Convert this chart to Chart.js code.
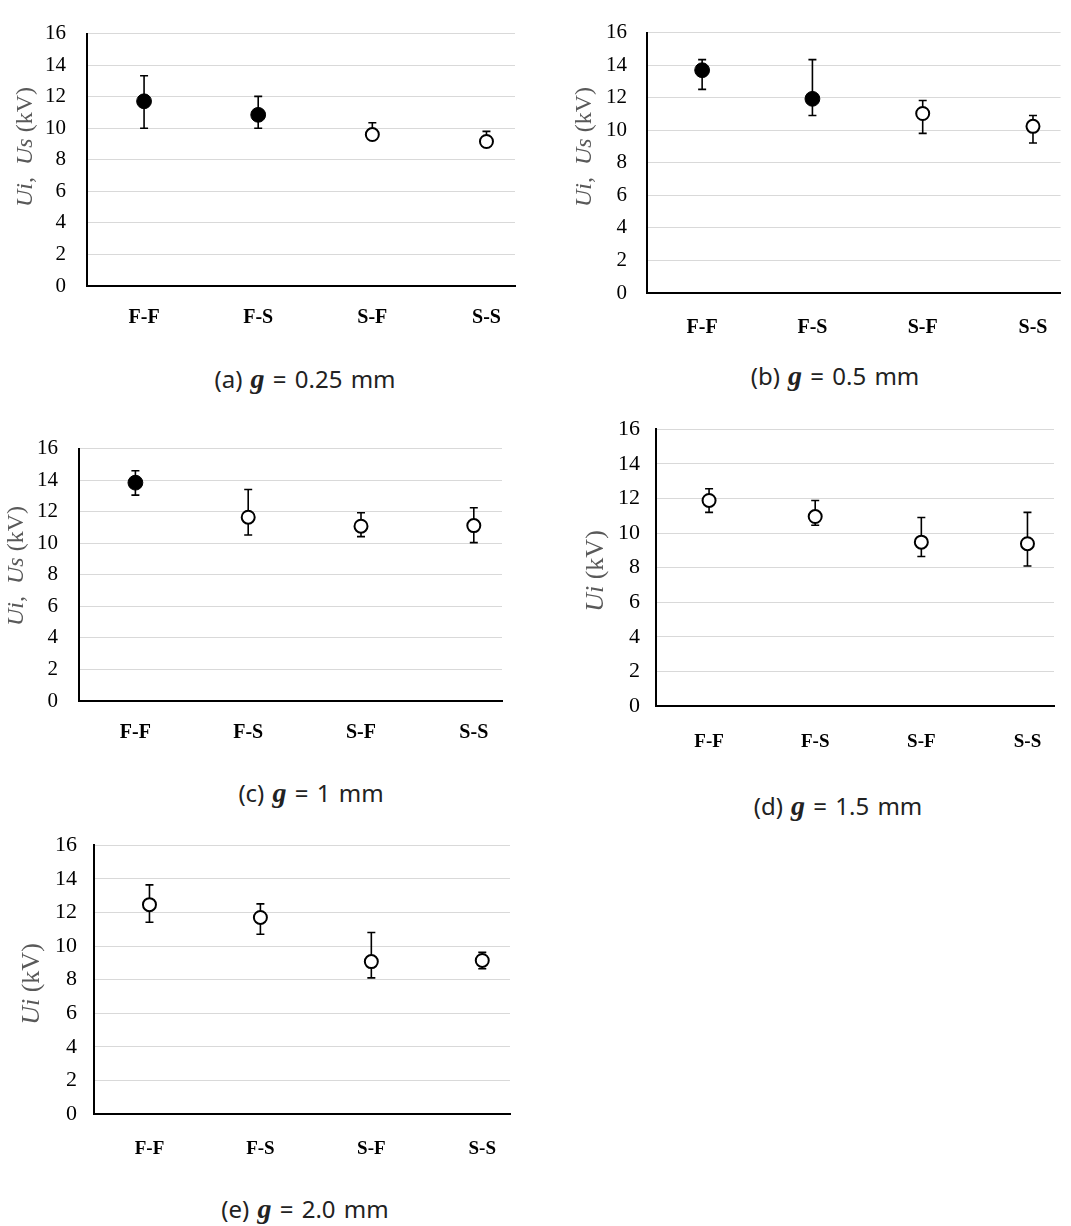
<!DOCTYPE html>
<html>
<head>
<meta charset="utf-8">
<title>Ui, Us vs electrode pair</title>
<script src="https://cdn.jsdelivr.net/npm/chart.js@4.4.1/dist/chart.umd.min.js"></script>
<style>
  body { margin: 0; background: #fff; width: 1071px; height: 1226px; position: relative; overflow: hidden; }
  .panel { position: absolute; }
  .caption { position: absolute; transform: translateX(-50%); font-family: 'Noto Sans', sans-serif; font-size: 24px; color: #222; white-space: nowrap; line-height: 1; word-spacing: 2px; }
  .caption i { font-family: "Liberation Serif", "Times New Roman", "DejaVu Serif", serif; font-weight: bold; font-size: 28px; }
</style>
</head>
<body>
<script>
const SERIF = '"Liberation Serif", "Times New Roman", "DejaVu Serif", serif';

// electrode combinations on the x axis
const categories = ['F-F', 'F-S', 'S-F', 'S-S'];
const yMin = 0, yMax = 16, yStep = 2;

// g = 0.25 mm
const mean025  = [11.71, 10.85, 9.60, 9.16];
const upper025 = [13.33, 12.02, 10.35, 9.80];
const lower025 = [10.00, 10.00, 9.30, 8.90];
const filled025 = [true, true, false, false];

// g = 0.5 mm
const mean05  = [13.69, 11.93, 11.03, 10.24];
const upper05 = [14.34, 14.34, 11.83, 10.91];
const lower05 = [12.51, 10.91, 9.81, 9.22];
const filled05 = [true, true, false, false];

// g = 1 mm
const mean1  = [13.84, 11.65, 11.08, 11.12];
const upper1 = [14.60, 13.41, 11.93, 12.25];
const lower1 = [13.05, 10.52, 10.42, 10.04];
const filled1 = [true, false, false, false];

// g = 1.5 mm
const mean15  = [11.88, 10.95, 9.47, 9.38];
const upper15 = [12.56, 11.88, 10.90, 11.19];
const lower15 = [11.19, 10.45, 8.64, 8.09];
const filled15 = [false, false, false, false];

// g = 2.0 mm
const mean2  = [12.46, 11.70, 9.07, 9.14];
const upper2 = [13.64, 12.51, 10.80, 9.62];
const lower2 = [11.41, 10.70, 8.10, 8.65];
const filled2 = [false, false, false, false];

// axis titles: [text, italic]
const titleUiUs = [['Ui', true], [',  ', false], ['Us', true], [' (kV)', false]];
const titleUi = [['Ui', true], [' (kV)', false]];

const panels = [
  { mean: mean025, upper: upper025, lower: lower025, filled: filled025, title: titleUiUs,
    box: { left: 0, top: 0, width: 530, height: 340 }, plot: { left: 87, top: 21, right: 515, bottom: 286 },
    tickSize: 21, tickPad: 21, catSize: 20, catPad: 20, titleX: 26, titleY: 147, titleSize: 24,
    caption: '(a)', gap: '0.25', capX: 305, capY: 378 },
  { mean: mean05, upper: upper05, lower: lower05, filled: filled05, title: titleUiUs,
    box: { left: 560, top: 0, width: 511, height: 345 }, plot: { left: 647, top: 21, right: 1071, bottom: 293 },
    tickSize: 21, tickPad: 20, catSize: 20, catPad: 23, titleX: 25, titleY: 147, titleSize: 24,
    caption: '(b)', gap: '0.5', capX: 835, capY: 375 },
  { mean: mean1, upper: upper1, lower: lower1, filled: filled1, title: titleUiUs,
    box: { left: 0, top: 415, width: 530, height: 345 }, plot: { left: 79, top: 435, right: 502, bottom: 701 },
    tickSize: 21, tickPad: 21, catSize: 20, catPad: 20, titleX: 17, titleY: 151, titleSize: 24,
    caption: '(c)', gap: '1', capX: 311, capY: 792 },
  { mean: mean15, upper: upper15, lower: lower15, filled: filled15, title: titleUi,
    box: { left: 560, top: 400, width: 511, height: 370 }, plot: { left: 656, top: 417, right: 1054, bottom: 706 },
    tickSize: 22, tickPad: 16, catSize: 19, catPad: 25, titleX: 36, titleY: 171, titleSize: 26,
    caption: '(d)', gap: '1.5', capX: 838, capY: 805 },
  { mean: mean2, upper: upper2, lower: lower2, filled: filled2, title: titleUi,
    box: { left: 0, top: 815, width: 530, height: 370 }, plot: { left: 94, top: 834, right: 510, bottom: 1114 },
    tickSize: 22, tickPad: 17, catSize: 19, catPad: 24, titleX: 32, titleY: 169, titleSize: 26,
    caption: '(e)', gap: '2.0', capX: 305, capY: 1208 }
];

// vertical error bars with caps, drawn under the markers
const errorBars = {
  id: 'errorBars',
  beforeDatasetsDraw(chart, args, opts) {
    const { ctx, scales: { x, y } } = chart;
    ctx.save();
    ctx.strokeStyle = '#000';
    ctx.lineWidth = 1.6;
    opts.upper.forEach((hi, i) => {
      const px = x.getPixelForValue(i);
      const top = y.getPixelForValue(hi);
      const bot = y.getPixelForValue(opts.lower[i]);
      ctx.beginPath();
      ctx.moveTo(px, top); ctx.lineTo(px, bot);
      ctx.moveTo(px - 4, top); ctx.lineTo(px + 4, top);
      ctx.moveTo(px - 4, bot); ctx.lineTo(px + 4, bot);
      ctx.stroke();
    });
    ctx.restore();
  }
};

// rotated y title with italic symbols
const yTitle = {
  id: 'yTitle',
  afterDraw(chart, args, opts) {
    const ctx = chart.ctx;
    const fontFor = it => (it ? 'italic ' : '') + opts.size + 'px ' + SERIF;
    let total = 0;
    opts.parts.forEach(([t, it]) => { ctx.font = fontFor(it); total += ctx.measureText(t).width; });
    ctx.save();
    ctx.translate(opts.x, opts.y);
    ctx.rotate(-Math.PI / 2);
    ctx.fillStyle = '#595959';
    ctx.textBaseline = 'middle';
    ctx.textAlign = 'left';
    let pos = -total / 2;
    opts.parts.forEach(([t, it]) => {
      ctx.font = fontFor(it);
      ctx.fillText(t, pos, 0);
      pos += ctx.measureText(t).width;
    });
    ctx.restore();
  }
};

function drawPanel(p) {
  const wrap = document.createElement('div');
  wrap.className = 'panel';
  wrap.style.left = p.box.left + 'px';
  wrap.style.top = p.box.top + 'px';
  wrap.style.width = p.box.width + 'px';
  wrap.style.height = p.box.height + 'px';
  const canvas = document.createElement('canvas');
  wrap.appendChild(canvas);
  document.body.appendChild(wrap);

  const cap = document.createElement('div');
  cap.className = 'caption';
  cap.style.left = p.capX + 'px';
  cap.style.top = (p.capY - 13) + 'px';
  cap.innerHTML = p.caption + ' <i>g</i> = ' + p.gap + ' mm';
  document.body.appendChild(cap);

  const padTop = p.plot.top - p.box.top;
  const padRight = p.box.left + p.box.width - p.plot.right;
  const yAxisWidth = p.plot.left - p.box.left;
  const xAxisHeight = p.box.top + p.box.height - p.plot.bottom;

  new Chart(canvas, {
    type: 'scatter',
    data: {
      datasets: [{
        data: p.mean.map((v, i) => ({ x: i, y: v })),
        showLine: false,
        pointRadius: p.filled.map(f => f ? 7.4 : 6.5),
        pointBackgroundColor: p.filled.map(f => f ? '#000' : '#fff'),
        pointBorderColor: '#000',
        pointBorderWidth: p.filled.map(f => f ? 1 : 2)
      }]
    },
    options: {
      responsive: true,
      maintainAspectRatio: false,
      animation: false,
      events: [],
      layout: { padding: { left: 0, top: padTop, right: padRight, bottom: 0 } },
      plugins: {
        legend: { display: false },
        tooltip: { enabled: false },
        errorBars: { upper: p.upper, lower: p.lower },
        yTitle: { parts: p.title, x: p.titleX, y: p.titleY, size: p.titleSize }
      },
      scales: {
        x: {
          type: 'linear',
          min: -0.5,
          max: 3.25,
          afterBuildTicks: scale => { scale.ticks = categories.map((c, i) => ({ value: i })); },
          afterFit: scale => { scale.height = xAxisHeight; },
          grid: { display: false, drawTicks: false },
          border: { display: true, color: '#000', width: 2 },
          ticks: {
            autoSkip: false,
            maxRotation: 0,
            padding: p.catPad,
            color: '#000',
            font: { family: SERIF, size: p.catSize, weight: 'bold' },
            callback: v => categories[v]
          }
        },
        y: {
          min: yMin,
          max: yMax,
          afterFit: scale => { scale.width = yAxisWidth; },
          grid: {
            drawTicks: false,
            lineWidth: 1,
            color: c => c.tick && c.tick.value === 0 ? 'rgba(0,0,0,0)' : '#d9d9d9'
          },
          border: { display: true, color: '#000', width: 2 },
          ticks: {
            stepSize: yStep,
            padding: p.tickPad,
            color: '#000',
            font: { family: SERIF, size: p.tickSize }
          }
        }
      }
    },
    plugins: [errorBars, yTitle]
  });
}

// make sure the serif faces are ready before the canvases paint
Promise.all([
  document.fonts.load('21px ' + SERIF),
  document.fonts.load('italic 24px ' + SERIF),
  document.fonts.load('bold 20px ' + SERIF)
]).catch(() => {}).then(() => panels.forEach(drawPanel));
</script>
</body>
</html>
